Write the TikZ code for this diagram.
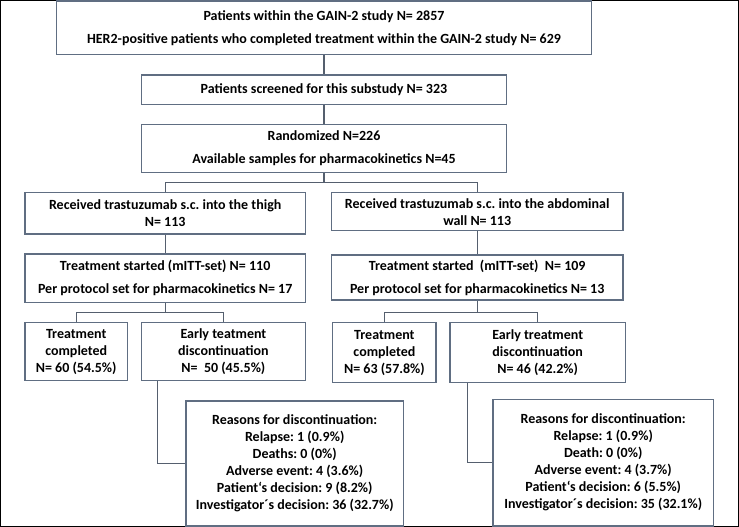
\documentclass[tikz,border=0pt]{standalone}
\usepackage{fontspec}
\setmainfont{Carlito}
\usetikzlibrary{positioning}
\definecolor{boxgray}{RGB}{96,110,130}
\definecolor{linegray}{RGB}{85,95,110}
\frenchspacing

\begin{document}
\begin{tikzpicture}[x=1pt, y=-1pt,
		b/.style={draw=boxgray, line width=1.2pt, align=center, inner sep=0pt,
			font=\bfseries\fontsize{14}{17}\selectfont},
		l/.style={draw=linegray, line width=1.1pt}]
		\useasboundingbox (0,0) rectangle (739,527);
		\draw[line width=1pt] (0.5,0.5) rectangle (738.5,526.5);

		\node [b, minimum width=535pt, minimum height=53.5pt] (study) at (324,27.7) {Patients within the GAIN-2 study N= 2857\\[6pt]HER2-positive patients who completed treatment within the GAIN-2 study N= 629};
		\node [b, minimum width=365pt, minimum height=29.3pt] (screen) at (324,89.7) {Patients screened for this substudy N= 323};
		\node [b, minimum width=365pt, minimum height=48.4pt] (rand) at (324,148.5) {Randomized N=226\\[6pt]Available samples for pharmacokinetics N=45};
		\node [b, minimum width=280.4pt, minimum height=41.3pt] (thigh) at (165.2,213.3) {Received trastuzumab s.c. into the thigh\\N= 113};
		\node [b, minimum width=291.7pt, minimum height=38pt] (abd) at (477.2,211.7) {Received trastuzumab s.c. into the abdominal\\wall N= 113};
		\node [b, minimum width=280.4pt, minimum height=48.7pt] (startL) at (165.2,278.3) {Treatment started (mITT-set) N= 110\\[6pt]Per protocol set for pharmacokinetics N= 17};
		\node [b, minimum width=291.7pt, minimum height=45pt] (startR) at (477.2,277.5) {Treatment started\ \ (mITT-set)\ \ N= 109\\[6pt]Per protocol set for pharmacokinetics N= 13};
		\node [b, minimum width=102.3pt, minimum height=58pt] (complL) at (76.2,351.7) {Treatment\\completed\\N= 60 (54.5\%)};
		\node [b, minimum width=164pt, minimum height=58pt] (earlyL) at (223.4,351.7) {Early teatment\\discontinuation\\N=\ \ 50 (45.5\%)};
		\node [b, minimum width=103.3pt, minimum height=60pt] (complR) at (384.4,352.7) {Treatment\\completed\\N= 63 (57.8\%)};
		\node [b, minimum width=175.4pt, minimum height=60pt] (earlyR) at (537.7,352.7) {Early treatment\\discontinuation\\N= 46 (42.2\%)};
		\node [b, minimum width=217.4pt, minimum height=125pt] (reasonL) at (294.7,463.5) {Reasons for discontinuation:\\Relapse: 1 (0.9\%)\\Deaths: 0 (0\%)\\Adverse event: 4 (3.6\%)\\Patient‘s decision: 9 (8.2\%)\\Investigator´s decision: 36 (32.7\%)};
		\node [b, minimum width=220.3pt, minimum height=126.7pt] (reasonR) at (603.2,462.7) {Reasons for discontinuation:\\Relapse: 1 (0.9\%)\\Death: 0 (0\%)\\Adverse event: 4 (3.7\%)\\Patient‘s decision: 6 (5.5\%)\\Investigator´s decision: 35 (32.1\%)};

		\coordinate (splitA) at (324,182.7);
		\coordinate (splitL) at (165.2,312.7);
		\coordinate (splitR) at (477.2,312.7);

		\draw[l] (study) -- (screen);
		\draw[l] (screen) -- (rand);
		\draw[l] (rand) -- (splitA);
		\draw[l] (thigh.north) |- (splitA) -| (abd.north);
		\draw[l] (thigh) -- (startL);
		\draw[l] (abd) -- (startR);
		\draw[l] (startL) -- (splitL);
		\draw[l] (complL.north) |- (splitL) -| (earlyL.north);
		\draw[l] (startR) -- (splitR);
		\draw[l] (complR.north) |- (splitR) -| (earlyR.north);
		\draw[l] ([xshift=17pt]earlyL.south west) |- (reasonL.west);
		\draw[l] ([xshift=18pt]earlyR.south west) |- (reasonR.west);
	\end{tikzpicture}
\end{document}
